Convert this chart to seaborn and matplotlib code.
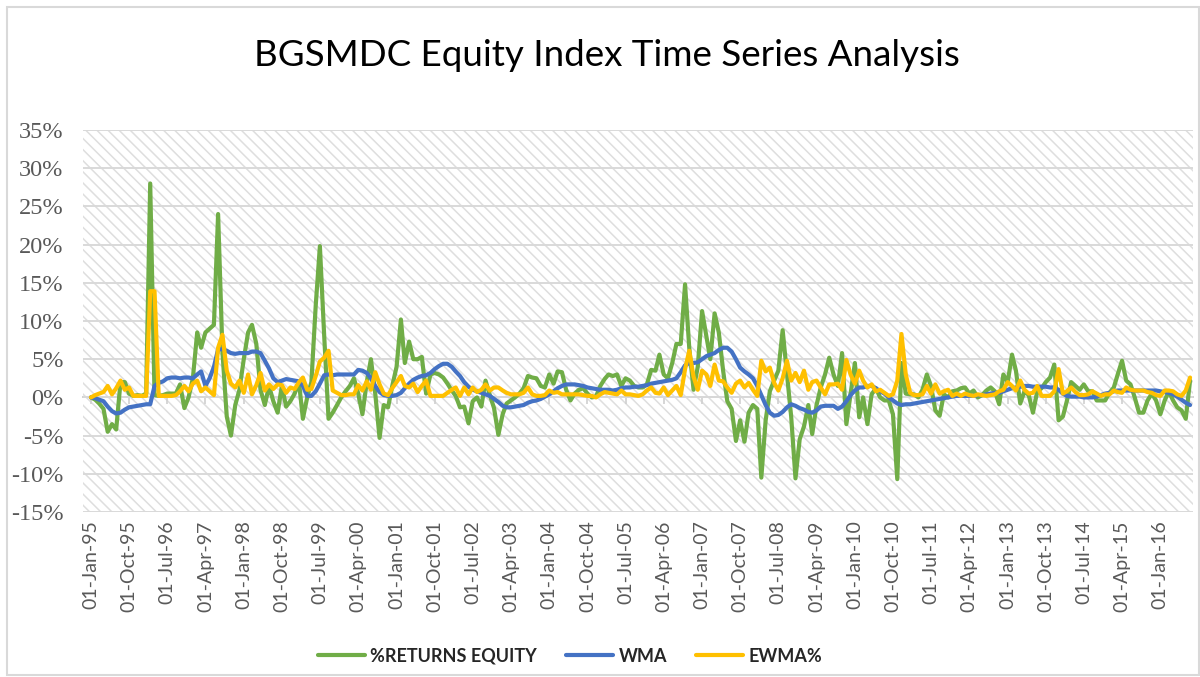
import numpy as np
import pandas as pd
import matplotlib
matplotlib.use("Agg")
import matplotlib.pyplot as plt
from matplotlib.ticker import FuncFormatter, FixedLocator
from matplotlib.patches import Rectangle
import seaborn as sns

# ---------------- data (monthly, Jan 1995 - Aug 2016, in %) ----------------
start_date = "1995-01-01"
n_months = 260

returns_equity = [
    0, -0.3, -0.8, -1.5, -4.5, -3.5, -4.2, 2.0, 2.0, 0.5,
    0.2, 0.3, 0.2, 0.5, 28.0, 0.3, 0.2, 0.3, 0.5, 0.5,
    0.5, 1.7, -1.4, 0.0, 2.5, 8.5, 6.5, 8.5, 9.0, 9.5,
    24.0, 6.0, -2.5, -5.0, -1.0, 1.0, 5.0, 8.5, 9.5, 7.0,
    1.0, -1.0, 1.5, -0.5, -2.0, 1.5, -1.2, -0.5, 0.5, 2.0,
    -2.8, 0.0, 2.0, 12.0, 19.8, 8.0, -2.8, -2.0, -1.0, 0.0,
    0.8, 1.5, 2.5, 0.5, -2.2, 2.0, 5.0, 0.5, -5.3, -1.0,
    -1.3, 1.5, 4.0, 10.2, 4.5, 7.3, 5.0, 5.0, 5.3, 0.5,
    3.0, 3.2, 3.0, 2.6, 1.8, 0.9, 0.2, -1.3, -1.2, -3.4,
    -0.5, 0, -1.2, 2.2, 0.3, -1.4, -4.9, -2.2, -0.8, -0.4,
    0, 0.5, 1.2, 2.8, 2.6, 2.5, 1.5, 1.3, 3.0, 1.8,
    3.4, 3.3, 1.0, -0.4, 0.5, 1.0, 1.2, 0.5, 0, 0.1,
    1.5, 2.4, 3.0, 2.8, 3.0, 1.5, 2.5, 2.2, 1.5, 1.3,
    1.3, 1.7, 3.6, 3.5, 5.6, 3.0, 2.5, 4.5, 7.0, 7.0,
    14.8, 6.5, 1.0, 4.0, 11.3, 8.0, 5.0, 11.0, 8.5, 3.5,
    -0.5, -1.5, -5.7, -3.0, -5.8, -2.0, -1.0, -1.5, -10.5, -3.0,
    0.8, 2.2, 3.5, 8.8, 3.0, -2.5, -10.6, -5.5, -3.8, -1.0,
    -4.8, -1.0, 1.3, 3.0, 5.2, 3.0, 1.5, 5.8, -3.5, 0.4,
    4.5, -2.6, 0.0, -3.5, 0.4, 1.2, 0, -0.4, -0.4, -2.2,
    -10.7, 4.5, 0.5, 0.4, 0.4, 0, 1.0, 3.0, 1.5, -1.7,
    -2.4, 0.4, 0, 0.8, 0.9, 1.2, 1.3, 0.5, 0.9, 0,
    0.3, 0.9, 1.3, 0.8, -0.9, 3.0, 2.0, 5.6, 3.5, -0.8,
    0.8, 0.3, -2.0, 0.8, 1.2, 2.0, 2.6, 4.3, -3.0, -2.5,
    -0.5, 2.0, 1.5, 1.0, 1.7, 0.8, 0.8, -0.4, -0.4, -0.4,
    0.6, 1.3, 3.0, 4.8, 2.2, 1.7, 0, -2.0, -2.0, -0.4,
    0.5, -0.4, -2.2, -0.4, 0.8, -0.4, -1.3, -1.7, -2.8, 2.2,
]

wma = [
    0, -0.1, -0.3, -0.5, -1.2, -1.8, -2.1, -2.0, -1.6, -1.3,
    -1.2, -1.1, -1.0, -0.9, -0.9, 1.5, 1.9, 2.1, 2.5, 2.6,
    2.6, 2.5, 2.6, 2.6, 2.5, 3.0, 3.4, 1.5, 2.5, 4.0,
    6.3, 6.3, 6.1, 5.8, 5.7, 5.8, 5.8, 5.8, 6.0, 6.0,
    5.8, 4.8, 3.8, 2.5, 2.0, 2.2, 2.4, 2.3, 2.2, 2.1,
    1.5, 0.2, 0.2, 0.8, 1.8, 2.9, 3.0, 2.9, 3.0, 3.0,
    3.0, 3.0, 3.0, 3.6, 3.5, 3.2, 2.5, 1.5, 0.7, 0.3,
    0.2, 0.2, 0.3, 0.6, 1.2, 1.8, 2.3, 2.6, 2.8, 2.9,
    3.2, 3.7, 4.1, 4.4, 4.4, 4.0, 3.4, 2.8, 2.0, 1.4,
    1.0, 0.8, 0.6, 0.4, 0.2, -0.2, -0.6, -1.1, -1.3, -1.3,
    -1.2, -1.1, -1.0, -0.7, -0.5, -0.4, -0.2, 0.1, 0.4, 0.8,
    1.2, 1.5, 1.7, 1.7, 1.7, 1.6, 1.5, 1.3, 1.2, 1.1,
    1.0, 1.0, 1.0, 0.9, 1.0, 1.2, 1.3, 1.3, 1.4, 1.4,
    1.5, 1.6, 1.8, 1.9, 2.0, 2.1, 2.2, 2.3, 2.5, 3.3,
    4.2, 4.5, 4.5, 4.6, 5.0, 5.4, 5.6, 5.8, 6.2, 6.5,
    6.5, 6.0, 5.0, 3.9, 3.4, 3.0, 2.5, 1.5, 0.3, -1.0,
    -2.0, -2.4, -2.3, -1.9, -1.3, -0.9, -1.1, -1.4, -1.6, -1.9,
    -2.0, -1.7, -1.2, -1.1, -1.1, -1.1, -1.5, -1.2, -0.5, 0.3,
    0.9, 1.3, 1.3, 1.5, 1.5, 1.2, 0.8, 0.5, 0.0, -0.4,
    -0.8, -1.0, -0.9, -0.9, -0.8, -0.7, -0.6, -0.5, -0.4, -0.3,
    -0.2, -0.1, 0, 0.1, 0.2, 0.2, 0.2, 0.2, 0.2, 0.3,
    0.3, 0.4, 0.5, 0.6, 0.6, 0.8, 1.0, 1.2, 1.3, 1.4,
    1.5, 1.5, 1.4, 1.4, 1.4, 1.4, 1.3, 1.3, 1.0, 0.5,
    0.2, 0.1, 0.1, 0.1, 0, 0, 0, 0.1, 0.3, 0.5,
    0.6, 0.8, 0.9, 0.9, 0.9, 0.9, 0.9, 0.9, 0.9, 0.9,
    0.9, 0.9, 0.8, 0.7, 0.6, 0.4, 0.1, -0.3, -0.7, -1.0,
]

ewma = [
    0, 0.3, 0.5, 0.7, 1.5, 0.4, 1.2, 2.2, 1.0, 1.3,
    0.2, 0.2, 0.2, 0.2, 13.9, 13.9, 0.2, 0.2, 0.2, 0.2,
    0.3, 0.8, 1.5, 0.8, 1.8, 2.2, 0.8, 1.3, 0.8, 0.3,
    6.5, 8.2, 3.5, 1.8, 1.3, 2.2, 0.6, 3.0, 0.4, 1.6,
    3.2, 0.9, 1.7, 1.1, 1.7, 1.6, 0.6, 1.3, 1.1, 2.0,
    2.6, 1.0, 1.1, 2.8, 4.7, 5.2, 6.1, 0.9, 0.6, 0.3,
    0.3, 0.4, 0.4, 1.6, 0.9, 2.1, 1.0, 3.3, 1.7, 0.5,
    0.3, 1.2, 2.0, 2.8, 1.5, 1.3, 1.8, 0.7, 1.5, 2.2,
    0.2, 0.2, 0.2, 0.2, 0.6, 1.0, 1.3, 0.2, 1.3, 0.4,
    1.3, 0.7, 1.0, 1.7, 0.9, 1.3, 1.3, 0.9, 0.6, 0.4,
    0.4, 0.4, 0.6, 1.3, 0.4, 0.2, 0.2, 0.3, 0.9, 0.6,
    0.7, 0.4, 0.4, 0.4, 0.4, 0.4, 0.3, 0.2, 0.2, 0,
    0.4, 0.7, 0.6, 0.5, 0.4, 0.9, 0.4, 0.4, 0.3, 0.2,
    0.4, 0.9, 1.3, 0.6, 0.5, 1.3, 0.3, 0.9, 1.5, 0.3,
    3.7, 6.1, 2.7, 1.0, 3.5, 3.0, 1.5, 4.3, 2.2, 2.1,
    1.3, 0.6, 1.8, 2.2, 1.3, 1.9, 1.0, 0.2, 4.8, 3.4,
    3.9, 1.9, 0.9, 2.5, 4.8, 2.2, 3.2, 2.0, 3.5, 1.0,
    2.0, 2.2, 1.3, 0.4, 1.7, 1.7, 1.8, 1.0, 4.9, 3.0,
    1.8, 3.5, 2.2, 1.3, 1.7, 0.8, 1.0, 0.6, 0.2, 0.4,
    2.2, 8.3, 3.0, 0.6, 0.3, 0.3, 0.4, 1.5, 0.5, 1.7,
    0.5, 0.8, 1.0, 0.2, 0.5, 0.2, 0.5, 0.3, 0.2, 0.4,
    0.3, 0.2, 0.3, 0.4, 0.8, 1.0, 2.0, 1.5, 0.9, 2.2,
    1.0, 0.5, 0.6, 1.5, 0.2, 0.2, 0.2, 0.8, 3.7, 0.5,
    0.8, 1.3, 0.7, 0.3, 0.3, 0.4, 0.8, 0.5, 0.2, 0.4,
    0.4, 0.9, 0.7, 0.6, 1.3, 1.0, 0.9, 0.9, 0.9, 0.7,
    0.6, 0.3, 0.2, 0.9, 0.9, 0.8, 0.4, 0.2, 0.9, 2.6,
]

series_names = ["%RETURNS EQUITY", "WMA", "EWMA%"]
series_colors = ["#70AD47", "#4472C4", "#FFC000"]
y_ticks = [-15, -10, -5, 0, 5, 10, 15, 20, 25, 30, 35]
x_tick_step_months = 9
title_text = "BGSMDC Equity Index Time Series Analysis"

# ---------------- build frame ----------------
dates = pd.date_range(start_date, periods=n_months, freq="MS")
df = pd.DataFrame({"date": dates,
                   series_names[0]: returns_equity,
                   series_names[1]: wma,
                   series_names[2]: ewma})
long = df.melt(id_vars="date", var_name="series", value_name="value")

# ---------------- style ----------------
sns.set_theme(style="white")
plt.rcParams["font.family"] = ["Lato", "DejaVu Sans"]
plt.rcParams["hatch.linewidth"] = 1.1

fig = plt.figure(figsize=(12, 6.77), dpi=100)
ax = fig.add_axes([83 / 1200, 1 - 512 / 677, (1193 - 83) / 1200, (512 - 130) / 677])

# hatched background (light downward diagonal)
ax.add_patch(Rectangle((0, 0), 1, 1, transform=ax.transAxes, facecolor="white",
                       edgecolor="#dedede", linewidth=0, hatch="\\\\\\", zorder=0))
ax.set_facecolor("white")

for name, col in zip(series_names, series_colors):
    sns.lineplot(data=long[long["series"] == name], x="date", y="value", ax=ax,
                 color=col, linewidth=3.0, label=name, zorder=3,
                 solid_capstyle="round", solid_joinstyle="round")

# axes limits / ticks
ax.set_ylim(-15, 35)
ax.set_xlim(dates[0] - pd.Timedelta(days=57), dates[-1] + pd.Timedelta(days=21))
ax.yaxis.set_major_locator(FixedLocator(y_ticks))
ax.yaxis.set_major_formatter(FuncFormatter(lambda v, p: f"{v:.0f}%"))
ax.grid(axis="y", color="#d9d9d9", linewidth=1.4, zorder=1)
ax.grid(axis="x", visible=False)
ax.set_axisbelow(True)

xticks = pd.date_range(start_date, dates[-1], freq=f"{x_tick_step_months}MS")
ax.set_xticks(xticks)
ax.set_xticklabels([d.strftime("%d-%b-%y") for d in xticks], rotation=90,
                   fontsize=14, color="#595959", family=["Lato", "DejaVu Sans"])
ax.tick_params(axis="x", length=0, pad=6)
for lab in ax.get_yticklabels():
    lab.set_family(["Liberation Serif", "DejaVu Serif"])
    lab.set_fontsize(17.5)
    lab.set_color("#595959")
ax.tick_params(axis="y", length=0, pad=14)
ax.set_xlabel("")
ax.set_ylabel("")
for s in ax.spines.values():
    s.set_visible(False)

# horizontal category axis crossing at 0 with tick marks
sec = ax.secondary_xaxis(15 / 50)
sec.set_xticks(xticks)
sec.set_xticklabels([])
sec.tick_params(axis="x", direction="out", length=5, width=1.2, color="#d0d0d0")
sec.spines["bottom"].set_color("#d0d0d0")
sec.spines["bottom"].set_linewidth(1.4)
for k in ["top", "left", "right"]:
    if k in sec.spines:
        sec.spines[k].set_visible(False)

# title
fig.text(607 / 1200, 1 - 55 / 677, title_text, ha="center", va="center",
         fontsize=26.5, color="black", family=["Lato", "DejaVu Sans"])

# legend
handles, labels = ax.get_legend_handles_labels()
if ax.get_legend():
    ax.get_legend().remove()
leg = fig.legend(handles, labels, loc="center", bbox_to_anchor=(570 / 1200, 1 - 656 / 677),
                 ncol=3, frameon=False, handlelength=2.6, handletextpad=0.3,
                 columnspacing=1.6, prop={"family": ["Lato", "DejaVu Sans"],
                                          "weight": "bold", "size": 13})
for h in leg.legend_handles:
    h.set_linewidth(3.0)

# chart border
fig.patches.append(Rectangle((7 / 1200, 2 / 677), 1 - 8 / 1200, 1 - 9 / 677,
                             transform=fig.transFigure, fill=False,
                             edgecolor="#d9d9d9", linewidth=1.5))

fig.savefig("out.png", dpi=100)
